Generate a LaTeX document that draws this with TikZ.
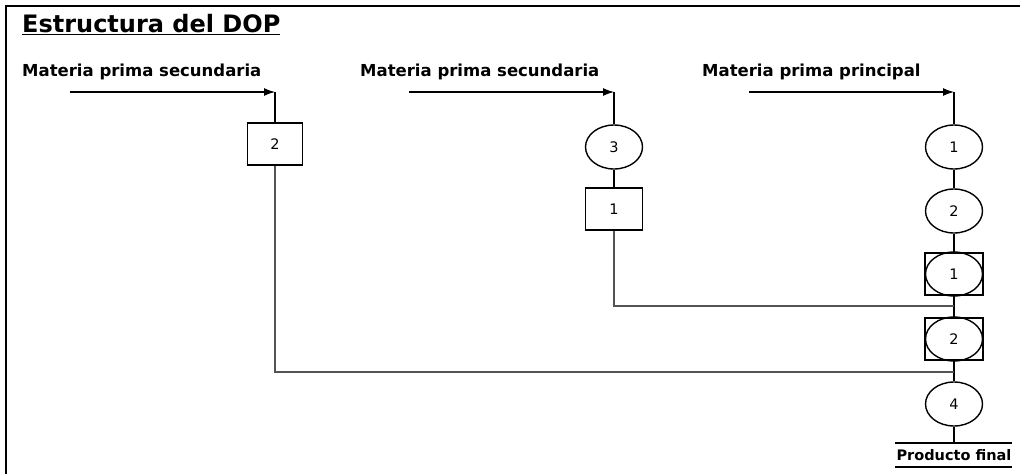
\documentclass[tikz,border=0pt]{standalone}
\usepackage{fontspec}
\setmainfont{DejaVu Sans}
\usetikzlibrary{shapes.geometric,arrows.meta}
\begin{document}
\begin{tikzpicture}[x=1pt,y=-1pt,
  lbl/.style={font=\fontsize{16.5}{18}\selectfont\bfseries, anchor=west, inner sep=0pt},
  opbox/.style={draw, line width=1.6pt, minimum width=55pt, minimum height=42pt, inner sep=0pt, font=\fontsize{14.5}{16}\selectfont},
  opcirc/.style={draw, ellipse, line width=1.4pt, minimum width=57pt, minimum height=44pt, inner sep=0pt, font=\fontsize{14.5}{16}\selectfont},
  comb/.style={draw, line width=2pt, minimum width=58pt, minimum height=42pt, inner sep=0pt},
  conn/.style={line width=1.1pt},
  merge/.style={line width=1.5pt, gray!65!black},
  feed/.style={line width=1.1pt, -{Latex[length=11pt,width=8pt]}}
]
\useasboundingbox (0,0) rectangle (1020,474);
\fill[white] (0,0) rectangle (1020,474);
\draw[line width=2.4pt] (6,474) -- (6,6) -- (1020,6);

\node[anchor=west, inner sep=0pt, font=\fontsize{24}{26}\selectfont\bfseries] (title) at (22,25) {\underline{Estructura del DOP}};

\node[lbl] (l1) at (22,72) {Materia prima secundaria};
\node[lbl] (l2) at (360,72) {Materia prima secundaria};
\node[lbl] (l3) at (702,72) {Materia prima principal};

\coordinate (s1) at (70,92);  \coordinate (t1) at (275,92);
\coordinate (s2) at (409,92); \coordinate (t2) at (614,92);
\coordinate (s3) at (749,92); \coordinate (t3) at (954,92);

% column 1
\node[opbox] (b2) at (275,144) {2};
% column 2
\node[opcirc] (c3) at (614,147) {3};
\node[opbox, minimum width=57pt] (b1) at (614,209) {1};
% main column
\node[opcirc] (c1) at (954,147) {1};
\node[opcirc] (c2) at (954,211) {2};
\node[comb] (q1) at (954,274) {};
\node[opcirc] (e1) at (954,274) {1};
\node[comb] (q2) at (954,339) {};
\node[opcirc] (e2) at (954,339) {2};
\node[opcirc] (c4) at (954,404) {4};

\coordinate (j1) at (954,306);
\coordinate (j2) at (954,372);
\coordinate (pe) at (954,443);

\draw[feed] (s1) -- (t1);
\draw[feed] (s2) -- (t2);
\draw[feed] (s3) -- (t3);
\draw[conn] (t1) -- (b2.north);
\draw[conn] (t2) -- (c3.north);
\draw[conn] (t3) -- (c1.north);
\draw[conn] (c3.south) -- (b1.north);
\draw[conn] (c1.south) -- (c2.north);
\draw[conn] (c2.south) -- (q1.north);
\draw[conn] (q1.south) -- (q2.north);
\draw[conn] (q2.south) -- (c4.north);
\draw[conn] (c4.south) -- (pe);
\draw[merge] (b1.south) |- (j1);
\draw[merge] (b2.south) |- (j2);

\draw[line width=1.6pt] (895,443) -- (1012,443);
\node[font=\fontsize{14.5}{16}\selectfont\bfseries, inner sep=0pt] (pf) at (954,455) {Producto final};
\draw[line width=1.6pt] (895,467) -- (1012,467);
\end{tikzpicture}
\end{document}
